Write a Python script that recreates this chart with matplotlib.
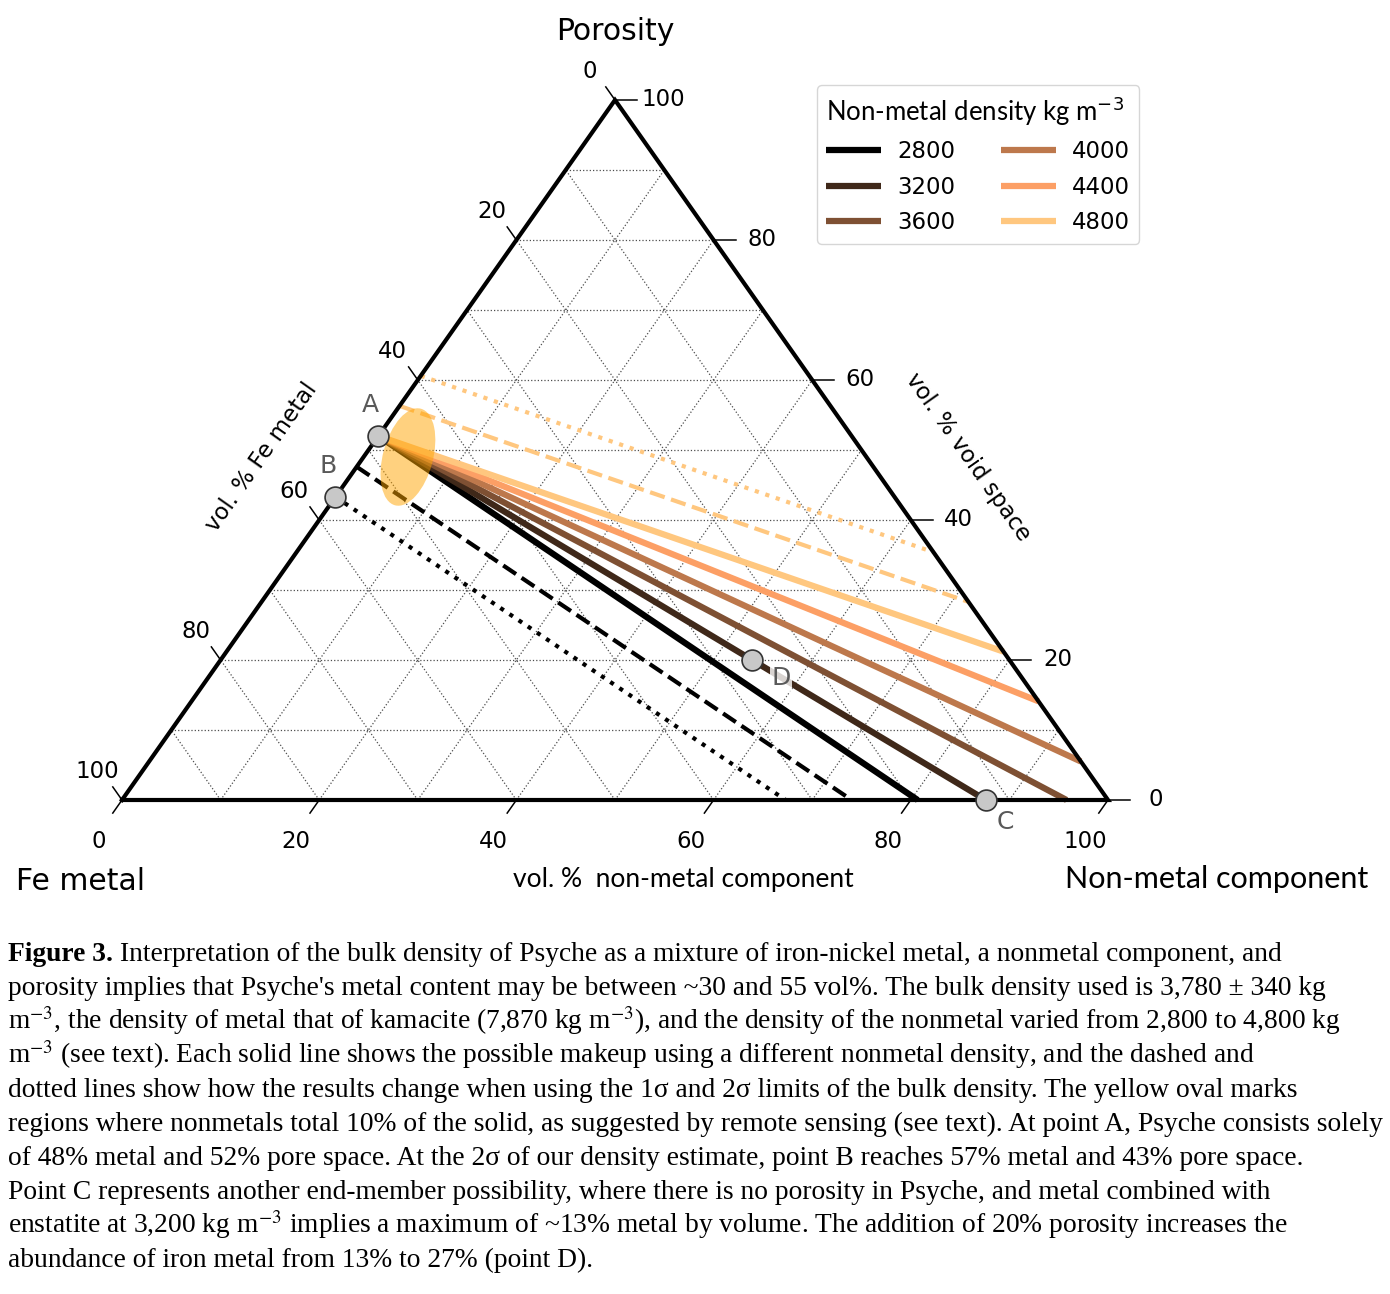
import numpy as np
import matplotlib.pyplot as plt
from matplotlib.patches import Ellipse

# compositions in vol %: (Fe metal, non-metal, porosity)
densities = [2800, 3200, 3600, 4000, 4400, 4800]
point_A = (48.0, 0.0, 52.0)
# where each solid line reaches the edge of the triangle
end_fe = [19.3, 12.4, 4.2, 0.0, 0.0, 0.0]
end_nm = [80.7, 87.6, 95.8, 94.5, 85.9, 78.8]
end_por = [0.0, 0.0, 0.0, 5.5, 14.1, 21.2]

# 1 and 2 sigma limits of the bulk density (start, end)
hi_1sig = [(52.4, 0.0, 47.6), (26.0, 74.0, 0.0)]
hi_2sig = [(56.7, 0.0, 43.3), (32.7, 67.3, 0.0)]
lo_1sig = [(43.7, 0.0, 56.3), (0.0, 71.7, 28.3)]
lo_2sig = [(39.4, 0.0, 60.6), (0.0, 64.6, 35.4)]

point_B = (56.7, 0.0, 43.3)
point_C = (12.4, 87.6, 0.0)
point_D = (26.1, 53.9, 20.0)
oval_centre = (46.5, 4.5, 49.0)

ticks = [0, 20, 40, 60, 80, 100]
grid_levels = [10, 20, 30, 40, 50, 60, 70, 80, 90]

caption = [
    "Interpretation of the bulk density of Psyche as a mixture of iron-nickel metal, a nonmetal component, and",
    "porosity implies that Psyche's metal content may be between ~30 and 55 vol%. The bulk density used is 3,780 \u00b1 340 kg",
    "m$^{-3}$, the density of metal that of kamacite (7,870 kg m$^{-3}$), and the density of the nonmetal varied from 2,800 to 4,800 kg",
    "m$^{-3}$ (see text). Each solid line shows the possible makeup using a different nonmetal density, and the dashed and",
    "dotted lines show how the results change when using the 1\u03c3 and 2\u03c3 limits of the bulk density. The yellow oval marks",
    "regions where nonmetals total 10% of the solid, as suggested by remote sensing (see text). At point A, Psyche consists solely",
    "of 48% metal and 52% pore space. At the 2\u03c3 of our density estimate, point B reaches 57% metal and 43% pore space.",
    "Point C represents another end-member possibility, where there is no porosity in Psyche, and metal combined with",
    "enstatite at 3,200 kg m$^{-3}$ implies a maximum of ~13% metal by volume. The addition of 20% porosity increases the",
    "abundance of iron metal from 13% to 27% (point D).",
]

W, Hpx = 1390, 1294
H = 700 / 986  # height of the (squashed) triangle, base = 1


def tern(c):
    f, n, p = c
    s = f + n + p
    return (n + p / 2) / s, p / s * H


def fxy(x, y):
    # image pixel position -> figure fraction
    return x / W, 1 - y / Hpx


fig = plt.figure(figsize=(13.9, 12.94), dpi=100)
ax = fig.add_axes([0, 0, 1, 1])
ax.set_xlim(-122 / 986, (W - 122) / 986)
ax.set_ylim((800 - Hpx) / 986, 800 / 986)
ax.axis('off')

# grid
for k in grid_levels:
    for a, b in [((100 - k, 0, k), (0, 100 - k, k)),
                 ((100 - k, k, 0), (0, k, 100 - k)),
                 ((k, 100 - k, 0), (k, 0, 100 - k))]:
        x0, y0 = tern(a)
        x1, y1 = tern(b)
        ax.plot([x0, x1], [y0, y1], ls=':', color='0.3', lw=0.9, zorder=1)

# triangle
corners = [tern((100, 0, 0)), tern((0, 100, 0)), tern((0, 0, 100)), tern((100, 0, 0))]
ax.plot([c[0] for c in corners], [c[1] for c in corners], color='k', lw=3, zorder=4,
        solid_joinstyle='miter')

# ticks and tick labels
tl = 16 / 986
d_left = np.array([-0.5, H]) / np.hypot(0.5, H)
d_bot = np.array([-0.5, -H]) / np.hypot(0.5, H)
for t in ticks:
    # bottom: non-metal
    x, y = tern((100 - t, t, 0))
    ax.plot([x, x + tl * d_bot[0]], [y, y + tl * d_bot[1]], color='k', lw=1.1)
    ax.text(x - 23 / 986, y - 42 / 986, str(t), ha='center', va='center', fontsize=16.5)
    # right: porosity
    x, y = tern((0, 100 - t, t))
    ax.plot([x, x + 22 / 986], [y, y], color='k', lw=1.1)
    ax.text(x + 48 / 986, y, str(t), ha='center', va='center', fontsize=16.5)
    # left: Fe metal
    x, y = tern((t, 0, 100 - t))
    ax.plot([x, x + tl * d_left[0]], [y, y + tl * d_left[1]], color='k', lw=1.1)
    ax.text(x - 25 / 986, y + 29 / 986, str(t), ha='center', va='center', fontsize=16.5)

# solid lines, one per non-metal density
cmap = plt.get_cmap('copper')
colors = [cmap(i / (len(densities) - 1)) for i in range(len(densities))]
handles = []
xa, ya = tern(point_A)
for i, d in enumerate(densities):
    xe, ye = tern((end_fe[i], end_nm[i], end_por[i]))
    ln, = ax.plot([xa, xe], [ya, ye], color=colors[i], lw=4.5, zorder=3,
                  solid_capstyle='butt', label=str(d))
    handles.append(ln)

# sigma limits
for seg, col, ls in [(hi_1sig, colors[0], '--'), (hi_2sig, colors[0], ':'),
                     (lo_1sig, colors[-1], '--'), (lo_2sig, colors[-1], ':')]:
    p0, p1 = tern(seg[0]), tern(seg[1])
    ax.plot([p0[0], p1[0]], [p0[1], p1[1]], color=col, lw=3, ls=ls, zorder=2)

# oval where non-metals are 10 % of the solid
ox, oy = tern(oval_centre)
ax.add_patch(Ellipse((ox, oy), 50 / 986, 100 / 986, angle=-15,
                     facecolor='orange', alpha=0.5, edgecolor='none', zorder=5))

# labelled points
for c, lab, off in [(point_A, 'A', (-6, 22)), (point_B, 'B', (-5, 22)),
                    (point_C, 'C', (14, -16)), (point_D, 'D', (21, -13))]:
    x, y = tern(c)
    ax.plot(x, y, 'o', ms=15, mfc='#c8c8c8', mec='0.2', mew=1.2, zorder=7)
    ax.annotate(lab, (x, y), xytext=off, textcoords='offset points', ha='center',
                va='center', fontsize=18, color='0.35', zorder=6,
                bbox=dict(facecolor='white', edgecolor='none', alpha=0.8, pad=1))

# vertex and axis labels
fig.text(*fxy(615, 32), 'Porosity', ha='center', va='center', fontsize=21.5)
fig.text(*fxy(81, 882), 'Fe metal', ha='center', va='center', fontsize=21.5)
fig.text(*fxy(1217, 879), 'Non-metal component', ha='center', va='center',
         fontsize=22, family='Lato')
fig.text(*fxy(683, 880), 'vol. %  non-metal component', ha='center', va='center',
         fontsize=19, family='Lato')
fig.text(*fxy(262, 457), 'vol. % Fe metal', ha='center', va='center', fontsize=16.5,
         rotation=54.8, rotation_mode='anchor')
fig.text(*fxy(968, 457), 'vol. % void space', ha='center', va='center', fontsize=16.5,
         rotation=-54.8, rotation_mode='anchor')

leg = ax.legend(handles=handles, ncol=2, loc='upper left',
                bbox_to_anchor=fxy(817, 85), bbox_transform=fig.transFigure,
                borderaxespad=0, fontsize=16.5, title='Non-metal density kg m$^{-3}$',
                title_fontproperties={'family': 'Lato', 'size': 18.5},
                alignment='left', handlelength=2.4,
                handletextpad=0.7, columnspacing=2.0, labelspacing=0.55)
for h in leg.get_lines():
    h.set_linewidth(4.5)

# caption
cap_font = dict(family='Liberation Serif', fontsize=19.8, math_fontfamily='stix')
base = 961
t0 = fig.text(8 / W, 1 - base / Hpx, 'Figure 3.', ha='left', va='baseline',
              fontweight='bold', **cap_font)
ax.annotate(caption[0], xy=(1, Hpx - base), xycoords=(t0, 'figure pixels'),
            xytext=(5, 0), textcoords='offset points', ha='left', va='baseline',
            annotation_clip=False, **cap_font)
for i, line in enumerate(caption[1:], start=1):
    fig.text(8 / W, 1 - (base + 34 * i) / Hpx, line, ha='left', va='baseline', **cap_font)

fig.savefig('out.png', dpi=100)
